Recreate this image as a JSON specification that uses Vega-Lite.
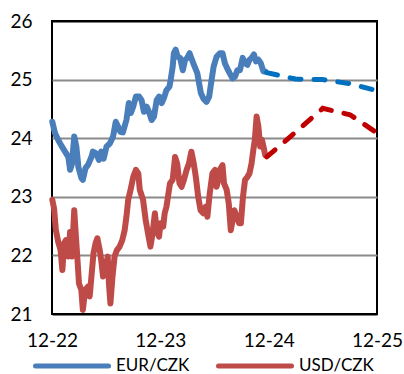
{
  "$schema": "https://vega.github.io/schema/vega-lite/v6.json",
  "width": 325,
  "height": 293,
  "autosize": {"type": "none"},
  "padding": {"left": 52, "top": 21, "right": 27, "bottom": 60},
  "background": "white",
  "config": {
    "view": {"stroke": "#000000", "strokeWidth": 2},
    "axis": {"labelFont": "Lato", "labelFontSize": 19, "labelColor": "#000000", "ticks": false, "domain": false, "title": null},
    "legend": {"labelFont": "Lato", "labelFontSize": 17, "labelColor": "#000000"}
  },
  "datasets": {
    "fx": [
      {"date": "2022-12-02", "value": 24.28, "series": "EUR/CZK", "kind": "actual"},
      {"date": "2022-12-11", "value": 24.09, "series": "EUR/CZK", "kind": "actual"},
      {"date": "2022-12-22", "value": 23.97, "series": "EUR/CZK", "kind": "actual"},
      {"date": "2023-01-03", "value": 23.86, "series": "EUR/CZK", "kind": "actual"},
      {"date": "2023-01-14", "value": 23.77, "series": "EUR/CZK", "kind": "actual"},
      {"date": "2023-01-25", "value": 23.68, "series": "EUR/CZK", "kind": "actual"},
      {"date": "2023-01-31", "value": 23.46, "series": "EUR/CZK", "kind": "actual"},
      {"date": "2023-02-06", "value": 23.55, "series": "EUR/CZK", "kind": "actual"},
      {"date": "2023-02-14", "value": 24.03, "series": "EUR/CZK", "kind": "actual"},
      {"date": "2023-02-21", "value": 23.86, "series": "EUR/CZK", "kind": "actual"},
      {"date": "2023-02-28", "value": 23.51, "series": "EUR/CZK", "kind": "actual"},
      {"date": "2023-03-10", "value": 23.32, "series": "EUR/CZK", "kind": "actual"},
      {"date": "2023-03-15", "value": 23.29, "series": "EUR/CZK", "kind": "actual"},
      {"date": "2023-03-24", "value": 23.49, "series": "EUR/CZK", "kind": "actual"},
      {"date": "2023-04-02", "value": 23.55, "series": "EUR/CZK", "kind": "actual"},
      {"date": "2023-04-13", "value": 23.68, "series": "EUR/CZK", "kind": "actual"},
      {"date": "2023-04-18", "value": 23.77, "series": "EUR/CZK", "kind": "actual"},
      {"date": "2023-04-29", "value": 23.74, "series": "EUR/CZK", "kind": "actual"},
      {"date": "2023-05-08", "value": 23.63, "series": "EUR/CZK", "kind": "actual"},
      {"date": "2023-05-16", "value": 23.77, "series": "EUR/CZK", "kind": "actual"},
      {"date": "2023-05-24", "value": 23.65, "series": "EUR/CZK", "kind": "actual"},
      {"date": "2023-06-03", "value": 23.86, "series": "EUR/CZK", "kind": "actual"},
      {"date": "2023-06-14", "value": 23.91, "series": "EUR/CZK", "kind": "actual"},
      {"date": "2023-06-25", "value": 24.03, "series": "EUR/CZK", "kind": "actual"},
      {"date": "2023-07-04", "value": 24.28, "series": "EUR/CZK", "kind": "actual"},
      {"date": "2023-07-12", "value": 24.20, "series": "EUR/CZK", "kind": "actual"},
      {"date": "2023-07-19", "value": 24.11, "series": "EUR/CZK", "kind": "actual"},
      {"date": "2023-07-28", "value": 24.10, "series": "EUR/CZK", "kind": "actual"},
      {"date": "2023-08-09", "value": 24.31, "series": "EUR/CZK", "kind": "actual"},
      {"date": "2023-08-17", "value": 24.60, "series": "EUR/CZK", "kind": "actual"},
      {"date": "2023-08-24", "value": 24.43, "series": "EUR/CZK", "kind": "actual"},
      {"date": "2023-09-01", "value": 24.54, "series": "EUR/CZK", "kind": "actual"},
      {"date": "2023-09-10", "value": 24.71, "series": "EUR/CZK", "kind": "actual"},
      {"date": "2023-09-21", "value": 24.71, "series": "EUR/CZK", "kind": "actual"},
      {"date": "2023-09-29", "value": 24.65, "series": "EUR/CZK", "kind": "actual"},
      {"date": "2023-10-07", "value": 24.45, "series": "EUR/CZK", "kind": "actual"},
      {"date": "2023-10-16", "value": 24.54, "series": "EUR/CZK", "kind": "actual"},
      {"date": "2023-10-24", "value": 24.45, "series": "EUR/CZK", "kind": "actual"},
      {"date": "2023-11-02", "value": 24.31, "series": "EUR/CZK", "kind": "actual"},
      {"date": "2023-11-10", "value": 24.37, "series": "EUR/CZK", "kind": "actual"},
      {"date": "2023-11-19", "value": 24.65, "series": "EUR/CZK", "kind": "actual"},
      {"date": "2023-11-27", "value": 24.71, "series": "EUR/CZK", "kind": "actual"},
      {"date": "2023-12-06", "value": 24.60, "series": "EUR/CZK", "kind": "actual"},
      {"date": "2023-12-13", "value": 24.68, "series": "EUR/CZK", "kind": "actual"},
      {"date": "2023-12-22", "value": 24.82, "series": "EUR/CZK", "kind": "actual"},
      {"date": "2024-01-01", "value": 24.88, "series": "EUR/CZK", "kind": "actual"},
      {"date": "2024-01-05", "value": 24.99, "series": "EUR/CZK", "kind": "actual"},
      {"date": "2024-01-12", "value": 25.22, "series": "EUR/CZK", "kind": "actual"},
      {"date": "2024-01-16", "value": 25.45, "series": "EUR/CZK", "kind": "actual"},
      {"date": "2024-01-22", "value": 25.51, "series": "EUR/CZK", "kind": "actual"},
      {"date": "2024-01-29", "value": 25.39, "series": "EUR/CZK", "kind": "actual"},
      {"date": "2024-02-06", "value": 25.37, "series": "EUR/CZK", "kind": "actual"},
      {"date": "2024-02-15", "value": 25.16, "series": "EUR/CZK", "kind": "actual"},
      {"date": "2024-02-23", "value": 25.34, "series": "EUR/CZK", "kind": "actual"},
      {"date": "2024-03-01", "value": 25.37, "series": "EUR/CZK", "kind": "actual"},
      {"date": "2024-03-09", "value": 25.45, "series": "EUR/CZK", "kind": "actual"},
      {"date": "2024-03-17", "value": 25.34, "series": "EUR/CZK", "kind": "actual"},
      {"date": "2024-03-26", "value": 25.22, "series": "EUR/CZK", "kind": "actual"},
      {"date": "2024-04-04", "value": 25.11, "series": "EUR/CZK", "kind": "actual"},
      {"date": "2024-04-10", "value": 24.94, "series": "EUR/CZK", "kind": "actual"},
      {"date": "2024-04-16", "value": 24.77, "series": "EUR/CZK", "kind": "actual"},
      {"date": "2024-04-24", "value": 24.68, "series": "EUR/CZK", "kind": "actual"},
      {"date": "2024-05-05", "value": 24.62, "series": "EUR/CZK", "kind": "actual"},
      {"date": "2024-05-14", "value": 24.71, "series": "EUR/CZK", "kind": "actual"},
      {"date": "2024-05-22", "value": 24.99, "series": "EUR/CZK", "kind": "actual"},
      {"date": "2024-05-29", "value": 25.22, "series": "EUR/CZK", "kind": "actual"},
      {"date": "2024-06-08", "value": 25.39, "series": "EUR/CZK", "kind": "actual"},
      {"date": "2024-06-19", "value": 25.45, "series": "EUR/CZK", "kind": "actual"},
      {"date": "2024-06-28", "value": 25.45, "series": "EUR/CZK", "kind": "actual"},
      {"date": "2024-07-06", "value": 25.28, "series": "EUR/CZK", "kind": "actual"},
      {"date": "2024-07-13", "value": 25.20, "series": "EUR/CZK", "kind": "actual"},
      {"date": "2024-07-22", "value": 25.11, "series": "EUR/CZK", "kind": "actual"},
      {"date": "2024-08-01", "value": 25.02, "series": "EUR/CZK", "kind": "actual"},
      {"date": "2024-08-09", "value": 25.05, "series": "EUR/CZK", "kind": "actual"},
      {"date": "2024-08-17", "value": 25.16, "series": "EUR/CZK", "kind": "actual"},
      {"date": "2024-08-26", "value": 25.16, "series": "EUR/CZK", "kind": "actual"},
      {"date": "2024-09-04", "value": 25.37, "series": "EUR/CZK", "kind": "actual"},
      {"date": "2024-09-12", "value": 25.28, "series": "EUR/CZK", "kind": "actual"},
      {"date": "2024-09-20", "value": 25.25, "series": "EUR/CZK", "kind": "actual"},
      {"date": "2024-09-27", "value": 25.34, "series": "EUR/CZK", "kind": "actual"},
      {"date": "2024-10-04", "value": 25.37, "series": "EUR/CZK", "kind": "actual"},
      {"date": "2024-10-12", "value": 25.43, "series": "EUR/CZK", "kind": "actual"},
      {"date": "2024-10-19", "value": 25.31, "series": "EUR/CZK", "kind": "actual"},
      {"date": "2024-10-27", "value": 25.34, "series": "EUR/CZK", "kind": "actual"},
      {"date": "2024-11-04", "value": 25.28, "series": "EUR/CZK", "kind": "actual"},
      {"date": "2024-11-13", "value": 25.14, "series": "EUR/CZK", "kind": "actual"},
      {"date": "2024-11-19", "value": 25.14, "series": "EUR/CZK", "kind": "actual"},
      {"date": "2022-12-02", "value": 22.95, "series": "USD/CZK", "kind": "actual"},
      {"date": "2022-12-08", "value": 22.80, "series": "USD/CZK", "kind": "actual"},
      {"date": "2022-12-14", "value": 22.43, "series": "USD/CZK", "kind": "actual"},
      {"date": "2022-12-22", "value": 22.23, "series": "USD/CZK", "kind": "actual"},
      {"date": "2022-12-30", "value": 22.09, "series": "USD/CZK", "kind": "actual"},
      {"date": "2023-01-05", "value": 21.75, "series": "USD/CZK", "kind": "actual"},
      {"date": "2023-01-11", "value": 22.21, "series": "USD/CZK", "kind": "actual"},
      {"date": "2023-01-17", "value": 22.26, "series": "USD/CZK", "kind": "actual"},
      {"date": "2023-01-25", "value": 21.98, "series": "USD/CZK", "kind": "actual"},
      {"date": "2023-01-31", "value": 22.40, "series": "USD/CZK", "kind": "actual"},
      {"date": "2023-02-06", "value": 21.98, "series": "USD/CZK", "kind": "actual"},
      {"date": "2023-02-14", "value": 22.77, "series": "USD/CZK", "kind": "actual"},
      {"date": "2023-02-19", "value": 22.37, "series": "USD/CZK", "kind": "actual"},
      {"date": "2023-02-25", "value": 21.92, "series": "USD/CZK", "kind": "actual"},
      {"date": "2023-03-02", "value": 21.52, "series": "USD/CZK", "kind": "actual"},
      {"date": "2023-03-10", "value": 21.41, "series": "USD/CZK", "kind": "actual"},
      {"date": "2023-03-15", "value": 21.07, "series": "USD/CZK", "kind": "actual"},
      {"date": "2023-03-23", "value": 21.41, "series": "USD/CZK", "kind": "actual"},
      {"date": "2023-04-02", "value": 21.47, "series": "USD/CZK", "kind": "actual"},
      {"date": "2023-04-07", "value": 21.30, "series": "USD/CZK", "kind": "actual"},
      {"date": "2023-04-13", "value": 21.64, "series": "USD/CZK", "kind": "actual"},
      {"date": "2023-04-20", "value": 22.04, "series": "USD/CZK", "kind": "actual"},
      {"date": "2023-04-27", "value": 22.21, "series": "USD/CZK", "kind": "actual"},
      {"date": "2023-05-03", "value": 22.29, "series": "USD/CZK", "kind": "actual"},
      {"date": "2023-05-11", "value": 22.09, "series": "USD/CZK", "kind": "actual"},
      {"date": "2023-05-16", "value": 21.92, "series": "USD/CZK", "kind": "actual"},
      {"date": "2023-05-22", "value": 21.64, "series": "USD/CZK", "kind": "actual"},
      {"date": "2023-05-28", "value": 21.75, "series": "USD/CZK", "kind": "actual"},
      {"date": "2023-06-07", "value": 21.98, "series": "USD/CZK", "kind": "actual"},
      {"date": "2023-06-11", "value": 21.52, "series": "USD/CZK", "kind": "actual"},
      {"date": "2023-06-16", "value": 21.18, "series": "USD/CZK", "kind": "actual"},
      {"date": "2023-06-23", "value": 21.64, "series": "USD/CZK", "kind": "actual"},
      {"date": "2023-06-30", "value": 21.98, "series": "USD/CZK", "kind": "actual"},
      {"date": "2023-07-08", "value": 22.09, "series": "USD/CZK", "kind": "actual"},
      {"date": "2023-07-17", "value": 22.15, "series": "USD/CZK", "kind": "actual"},
      {"date": "2023-07-26", "value": 22.26, "series": "USD/CZK", "kind": "actual"},
      {"date": "2023-08-03", "value": 22.43, "series": "USD/CZK", "kind": "actual"},
      {"date": "2023-08-09", "value": 22.66, "series": "USD/CZK", "kind": "actual"},
      {"date": "2023-08-15", "value": 22.95, "series": "USD/CZK", "kind": "actual"},
      {"date": "2023-08-23", "value": 23.12, "series": "USD/CZK", "kind": "actual"},
      {"date": "2023-09-01", "value": 23.34, "series": "USD/CZK", "kind": "actual"},
      {"date": "2023-09-10", "value": 23.46, "series": "USD/CZK", "kind": "actual"},
      {"date": "2023-09-18", "value": 23.40, "series": "USD/CZK", "kind": "actual"},
      {"date": "2023-09-23", "value": 23.12, "series": "USD/CZK", "kind": "actual"},
      {"date": "2023-10-04", "value": 22.95, "series": "USD/CZK", "kind": "actual"},
      {"date": "2023-10-13", "value": 22.60, "series": "USD/CZK", "kind": "actual"},
      {"date": "2023-10-21", "value": 22.37, "series": "USD/CZK", "kind": "actual"},
      {"date": "2023-10-29", "value": 22.15, "series": "USD/CZK", "kind": "actual"},
      {"date": "2023-11-05", "value": 22.37, "series": "USD/CZK", "kind": "actual"},
      {"date": "2023-11-13", "value": 22.72, "series": "USD/CZK", "kind": "actual"},
      {"date": "2023-11-19", "value": 22.43, "series": "USD/CZK", "kind": "actual"},
      {"date": "2023-11-27", "value": 22.32, "series": "USD/CZK", "kind": "actual"},
      {"date": "2023-12-02", "value": 22.55, "series": "USD/CZK", "kind": "actual"},
      {"date": "2023-12-11", "value": 22.49, "series": "USD/CZK", "kind": "actual"},
      {"date": "2023-12-16", "value": 22.72, "series": "USD/CZK", "kind": "actual"},
      {"date": "2023-12-22", "value": 22.83, "series": "USD/CZK", "kind": "actual"},
      {"date": "2023-12-27", "value": 23.00, "series": "USD/CZK", "kind": "actual"},
      {"date": "2024-01-03", "value": 23.23, "series": "USD/CZK", "kind": "actual"},
      {"date": "2024-01-12", "value": 23.29, "series": "USD/CZK", "kind": "actual"},
      {"date": "2024-01-20", "value": 23.68, "series": "USD/CZK", "kind": "actual"},
      {"date": "2024-01-27", "value": 23.57, "series": "USD/CZK", "kind": "actual"},
      {"date": "2024-02-04", "value": 23.23, "series": "USD/CZK", "kind": "actual"},
      {"date": "2024-02-11", "value": 23.17, "series": "USD/CZK", "kind": "actual"},
      {"date": "2024-02-19", "value": 23.29, "series": "USD/CZK", "kind": "actual"},
      {"date": "2024-02-28", "value": 23.46, "series": "USD/CZK", "kind": "actual"},
      {"date": "2024-03-07", "value": 23.57, "series": "USD/CZK", "kind": "actual"},
      {"date": "2024-03-15", "value": 23.77, "series": "USD/CZK", "kind": "actual"},
      {"date": "2024-03-23", "value": 23.57, "series": "USD/CZK", "kind": "actual"},
      {"date": "2024-03-30", "value": 23.34, "series": "USD/CZK", "kind": "actual"},
      {"date": "2024-04-07", "value": 23.00, "series": "USD/CZK", "kind": "actual"},
      {"date": "2024-04-15", "value": 22.77, "series": "USD/CZK", "kind": "actual"},
      {"date": "2024-04-24", "value": 22.72, "series": "USD/CZK", "kind": "actual"},
      {"date": "2024-05-02", "value": 22.83, "series": "USD/CZK", "kind": "actual"},
      {"date": "2024-05-08", "value": 22.66, "series": "USD/CZK", "kind": "actual"},
      {"date": "2024-05-16", "value": 23.06, "series": "USD/CZK", "kind": "actual"},
      {"date": "2024-05-25", "value": 23.40, "series": "USD/CZK", "kind": "actual"},
      {"date": "2024-06-03", "value": 23.46, "series": "USD/CZK", "kind": "actual"},
      {"date": "2024-06-08", "value": 23.17, "series": "USD/CZK", "kind": "actual"},
      {"date": "2024-06-14", "value": 23.29, "series": "USD/CZK", "kind": "actual"},
      {"date": "2024-06-19", "value": 23.46, "series": "USD/CZK", "kind": "actual"},
      {"date": "2024-06-28", "value": 23.54, "series": "USD/CZK", "kind": "actual"},
      {"date": "2024-07-03", "value": 23.23, "series": "USD/CZK", "kind": "actual"},
      {"date": "2024-07-12", "value": 23.12, "series": "USD/CZK", "kind": "actual"},
      {"date": "2024-07-19", "value": 22.89, "series": "USD/CZK", "kind": "actual"},
      {"date": "2024-07-26", "value": 22.43, "series": "USD/CZK", "kind": "actual"},
      {"date": "2024-08-01", "value": 22.60, "series": "USD/CZK", "kind": "actual"},
      {"date": "2024-08-07", "value": 22.77, "series": "USD/CZK", "kind": "actual"},
      {"date": "2024-08-15", "value": 22.66, "series": "USD/CZK", "kind": "actual"},
      {"date": "2024-08-23", "value": 22.55, "series": "USD/CZK", "kind": "actual"},
      {"date": "2024-08-29", "value": 22.55, "series": "USD/CZK", "kind": "actual"},
      {"date": "2024-09-05", "value": 23.00, "series": "USD/CZK", "kind": "actual"},
      {"date": "2024-09-12", "value": 23.29, "series": "USD/CZK", "kind": "actual"},
      {"date": "2024-09-20", "value": 23.34, "series": "USD/CZK", "kind": "actual"},
      {"date": "2024-09-27", "value": 23.40, "series": "USD/CZK", "kind": "actual"},
      {"date": "2024-10-04", "value": 23.57, "series": "USD/CZK", "kind": "actual"},
      {"date": "2024-10-10", "value": 23.80, "series": "USD/CZK", "kind": "actual"},
      {"date": "2024-10-15", "value": 23.97, "series": "USD/CZK", "kind": "actual"},
      {"date": "2024-10-21", "value": 24.37, "series": "USD/CZK", "kind": "actual"},
      {"date": "2024-10-27", "value": 24.20, "series": "USD/CZK", "kind": "actual"},
      {"date": "2024-11-02", "value": 23.86, "series": "USD/CZK", "kind": "actual"},
      {"date": "2024-11-08", "value": 23.97, "series": "USD/CZK", "kind": "actual"},
      {"date": "2024-11-13", "value": 23.86, "series": "USD/CZK", "kind": "actual"},
      {"date": "2024-11-19", "value": 23.71, "series": "USD/CZK", "kind": "actual"},
      {"date": "2024-11-24", "value": 25.12, "series": "EUR/CZK", "kind": "forecast"},
      {"date": "2025-03-01", "value": 25.01, "series": "EUR/CZK", "kind": "forecast"},
      {"date": "2025-06-01", "value": 25.00, "series": "EUR/CZK", "kind": "forecast"},
      {"date": "2025-09-01", "value": 24.93, "series": "EUR/CZK", "kind": "forecast"},
      {"date": "2025-12-01", "value": 24.81, "series": "EUR/CZK", "kind": "forecast"},
      {"date": "2024-11-24", "value": 23.68, "series": "USD/CZK", "kind": "forecast"},
      {"date": "2025-03-01", "value": 24.10, "series": "USD/CZK", "kind": "forecast"},
      {"date": "2025-06-01", "value": 24.51, "series": "USD/CZK", "kind": "forecast"},
      {"date": "2025-09-01", "value": 24.40, "series": "USD/CZK", "kind": "forecast"},
      {"date": "2025-12-01", "value": 24.09, "series": "USD/CZK", "kind": "forecast"}
    ]
  },
  "data": {"name": "fx"},
  "encoding": {
    "x": {
      "field": "date",
      "type": "temporal",
      "scale": {
        "type": "utc",
        "domain": [
          {"year": 2022, "month": 12, "date": 1, "utc": true},
          {"year": 2025, "month": 12, "date": 1, "utc": true}
        ],
        "nice": false
      },
      "axis": {
        "values": [
          {"year": 2022, "month": 12, "date": 1, "utc": true},
          {"year": 2023, "month": 12, "date": 1, "utc": true},
          {"year": 2024, "month": 12, "date": 1, "utc": true},
          {"year": 2025, "month": 12, "date": 1, "utc": true}
        ],
        "format": "%m-%y",
        "labelPadding": 17,
        "grid": false,
        "labelFlush": false
      }
    },
    "y": {
      "field": "value",
      "type": "quantitative",
      "scale": {"domain": [21, 26], "nice": false, "zero": false},
      "axis": {
        "values": [21, 22, 23, 24, 25, 26],
        "labelPadding": 20,
        "grid": true,
        "gridWidth": 2,
        "gridColor": {"condition": {"test": "datum.value == 26 || datum.value == 21", "value": "#000000"}, "value": "#8a8a8a"}
      }
    }
  },
  "layer": [
    {
      "transform": [{"filter": "datum.kind == 'actual'"}],
      "mark": {"type": "line", "strokeWidth": 6, "strokeCap": "round", "strokeJoin": "round"},
      "encoding": {
        "color": {
          "field": "series",
          "type": "nominal",
          "scale": {"domain": ["EUR/CZK", "USD/CZK"], "range": ["#4A7EBB", "#BE4B48"]},
          "legend": {
            "title": null,
            "orient": "none",
            "direction": "horizontal",
            "legendX": -19,
            "legendY": 306,
            "symbolType": "stroke",
            "symbolSize": 5329,
            "symbolStrokeWidth": 5,
            "labelOffset": 5,
            "columnPadding": 18,
            "encode": {"symbols": {"update": {"strokeCap": {"value": "round"}}}}
          }
        }
      }
    },
    {
      "transform": [{"filter": "datum.kind == 'forecast' && datum.series == 'EUR/CZK'"}],
      "mark": {"type": "line", "strokeWidth": 5, "strokeCap": "round", "strokeDash": [11, 13], "color": "#0070C0"},
      "encoding": {}
    },
    {
      "transform": [{"filter": "datum.kind == 'forecast' && datum.series == 'USD/CZK'"}],
      "mark": {"type": "line", "strokeWidth": 5, "strokeCap": "round", "strokeDash": [11, 13], "color": "#C00000"},
      "encoding": {}
    }
  ]
}
